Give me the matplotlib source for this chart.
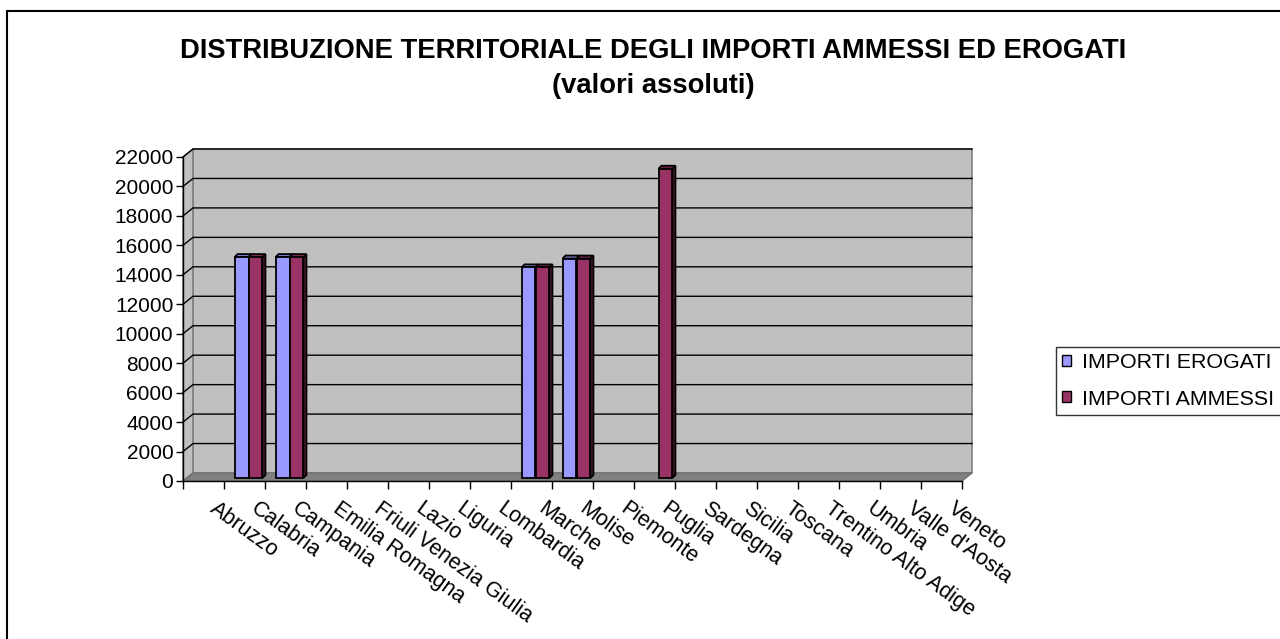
import numpy as np
import matplotlib
matplotlib.use('Agg')
import matplotlib.pyplot as plt
from matplotlib.patches import Polygon, Rectangle
from matplotlib.lines import Line2D
from matplotlib.transforms import ScaledTranslation

# ---------------------------------------------------------[dati]-------------------------------------------------------
regioni = ['Abruzzo', 'Calabria', 'Campania', 'Emilia Romagna', 'Friuli Venezia Giulia', 'Lazio', 'Liguria',
           'Lombardia', 'Marche', 'Molise', 'Piemonte', 'Puglia', 'Sardegna', 'Sicilia', 'Toscana',
           'Trentino Alto Adige', 'Umbria', "Valle d'Aosta", 'Veneto']
importi_erogati = [0, 15000, 15000, 0, 0, 0, 0, 0, 14300, 14900, 0, 0, 0, 0, 0, 0, 0, 0, 0]
importi_ammessi = [0, 15000, 15000, 0, 0, 0, 0, 0, 14300, 14900, 0, 21000, 0, 0, 0, 0, 0, 0, 0]
serie = ['IMPORTI EROGATI', 'IMPORTI AMMESSI']
yticks = list(range(0, 22001, 2000))
titolo_1 = 'DISTRIBUZIONE TERRITORIALE DEGLI IMPORTI AMMESSI ED EROGATI'
titolo_2 = '(valori assoluti)'

col_erog = '#9999FF'
col_amm = '#993366'
FONT = ['Liberation Sans', 'DejaVu Sans']

W, H, DPI = 1280, 639, 100
DX, DY = 10, 8      # profondita' 3D (pixel)
MX, MY = 4, 3       # posizione delle barre nella profondita'
BX, BY = 3, 3       # spessore delle barre


def shade(c, f):
    r, g, b = matplotlib.colors.to_rgb(c)
    return (r * f, g * f, b * f)


def px(ax, x, y):
    return ax.transData.transform((x, y))


def box3d(ax, x0, w, h, color):
    (x_a, y_a) = px(ax, x0, 0)
    (x_b, y_b) = px(ax, x0 + w, h)
    x_a += MX; x_b += MX; y_a += MY; y_b += MY
    side = [(x_b, y_a), (x_b + BX, y_a + BY), (x_b + BX, y_b + BY), (x_b, y_b)]
    top = [(x_a, y_b), (x_b, y_b), (x_b + BX, y_b + BY), (x_a + BX, y_b + BY)]
    kw = dict(transform=None, clip_on=False, lw=1.3, ec='black', zorder=5, joinstyle='miter')
    ax.add_patch(Polygon(side, fc=shade(color, 0.55), **kw))
    ax.add_patch(Polygon(top, fc=shade(color, 0.8), **kw))


if __name__ == '__main__':
    plt.rcParams['font.family'] = FONT
    fig = plt.figure(figsize=(W / DPI, H / DPI), dpi=DPI)
    x0p, x1p, y0p, y1p = 183, 962, 481, 157
    ax = fig.add_axes([x0p / W, 1 - y0p / H, (x1p - x0p) / W, (y0p - y1p) / H])
    n = len(regioni)
    ax.set_xlim(0, n)
    ax.set_ylim(0, 22000)
    ax.patch.set_visible(False)
    for s in ['top', 'right']:
        ax.spines[s].set_visible(False)
    ax.spines['left'].set_linewidth(1.0)
    ax.spines['bottom'].set_linewidth(1.0)

    # pareti e pavimento
    (lx, by) = px(ax, 0, 0)
    (rx, ty) = px(ax, n, 22000)
    wall_kw = dict(transform=None, clip_on=False, lw=1.2, ec='#808080', zorder=0)
    ax.add_patch(Polygon([(lx + DX, by + DY), (rx + DX, by + DY), (rx + DX, ty + DY), (lx + DX, ty + DY)],
                         fc='#C0C0C0', **wall_kw))
    ax.add_patch(Polygon([(lx, by), (lx + DX, by + DY), (lx + DX, ty + DY), (lx, ty)], fc='#C0C0C0', **wall_kw))
    for v in yticks[1:]:
        (gx, gy) = px(ax, 0, v)
        ax.add_line(Line2D([gx, gx + DX, rx + DX], [gy, gy + DY, gy + DY], transform=None, color='black',
                           lw=1.0, zorder=1, clip_on=False))
    ax.add_patch(Polygon([(lx, by), (rx, by), (rx + DX, by + DY), (lx + DX, by + DY)], fc='#808080',
                         transform=None, clip_on=False, lw=1.0, ec='#707070', zorder=2))

    # barre
    w = 0.34
    x = np.arange(n)
    off = ScaledTranslation(MX / DPI, MY / DPI, fig.dpi_scale_trans)
    for k, (vals, col) in enumerate([(importi_erogati, col_erog), (importi_ammessi, col_amm)]):
        xs = x + 0.5 - w + k * w
        m = np.array(vals) > 0
        ax.bar(xs[m], np.array(vals)[m], width=w, align='edge', color=col, edgecolor='black', lw=1.3,
               transform=ax.transData + off, zorder=6, clip_on=False)
        for xi, v in zip(xs[m], np.array(vals)[m]):
            box3d(ax, xi, w, v, col)

    # assi
    ax.set_yticks(yticks)
    ax.set_yticklabels([str(v) for v in yticks])
    ax.tick_params(axis='y', length=5, width=1, pad=2, labelsize=15)
    ax.set_xticks(np.arange(n + 1))
    ax.set_xticklabels([])
    ax.tick_params(axis='x', which='major', length=6, width=1, direction='out')
    ax.set_xticks(x + 0.5, minor=True)
    ax.set_xticklabels(regioni, minor=True, rotation=-36, ha='left', va='top', rotation_mode='anchor')
    ax.tick_params(axis='x', which='minor', length=0, pad=12, labelsize=15.5)
    lab_off = ScaledTranslation(15 / DPI, 0, fig.dpi_scale_trans)
    for t in ax.get_xticklabels(minor=True):
        t.set_transform(t.get_transform() + lab_off)

    fig.text(653 / W, 1 - 58 / H, titolo_1, ha='center', va='baseline', fontsize=19.7, fontweight='bold')
    fig.text(653 / W, 1 - 93 / H, titolo_2, ha='center', va='baseline', fontsize=19.7, fontweight='bold')

    handles = [Rectangle((0, 0), 1, 1, fc=col_erog, ec='black', lw=1.0),
               Rectangle((0, 0), 1, 1, fc=col_amm, ec='black', lw=1.0)]
    leg = fig.legend(handles, serie, loc='upper left', mode='expand',
                     bbox_to_anchor=(1056 / W, 1 - 417 / H, 250 / W, 70 / H), fontsize=15.4,
                     frameon=True, fancybox=False, handlelength=0.42, handleheight=0.42, handletextpad=0.5,
                     labelspacing=0.8, borderpad=0.3, borderaxespad=0)
    leg.get_frame().set_edgecolor('black')
    leg.get_frame().set_linewidth(1.0)

    fig.add_artist(Rectangle((7 / W, -0.1), 1.2, 1.1 - 11 / H, transform=fig.transFigure, fill=False,
                             ec='black', lw=1.5))

    fig.savefig('out.png', dpi=DPI)
